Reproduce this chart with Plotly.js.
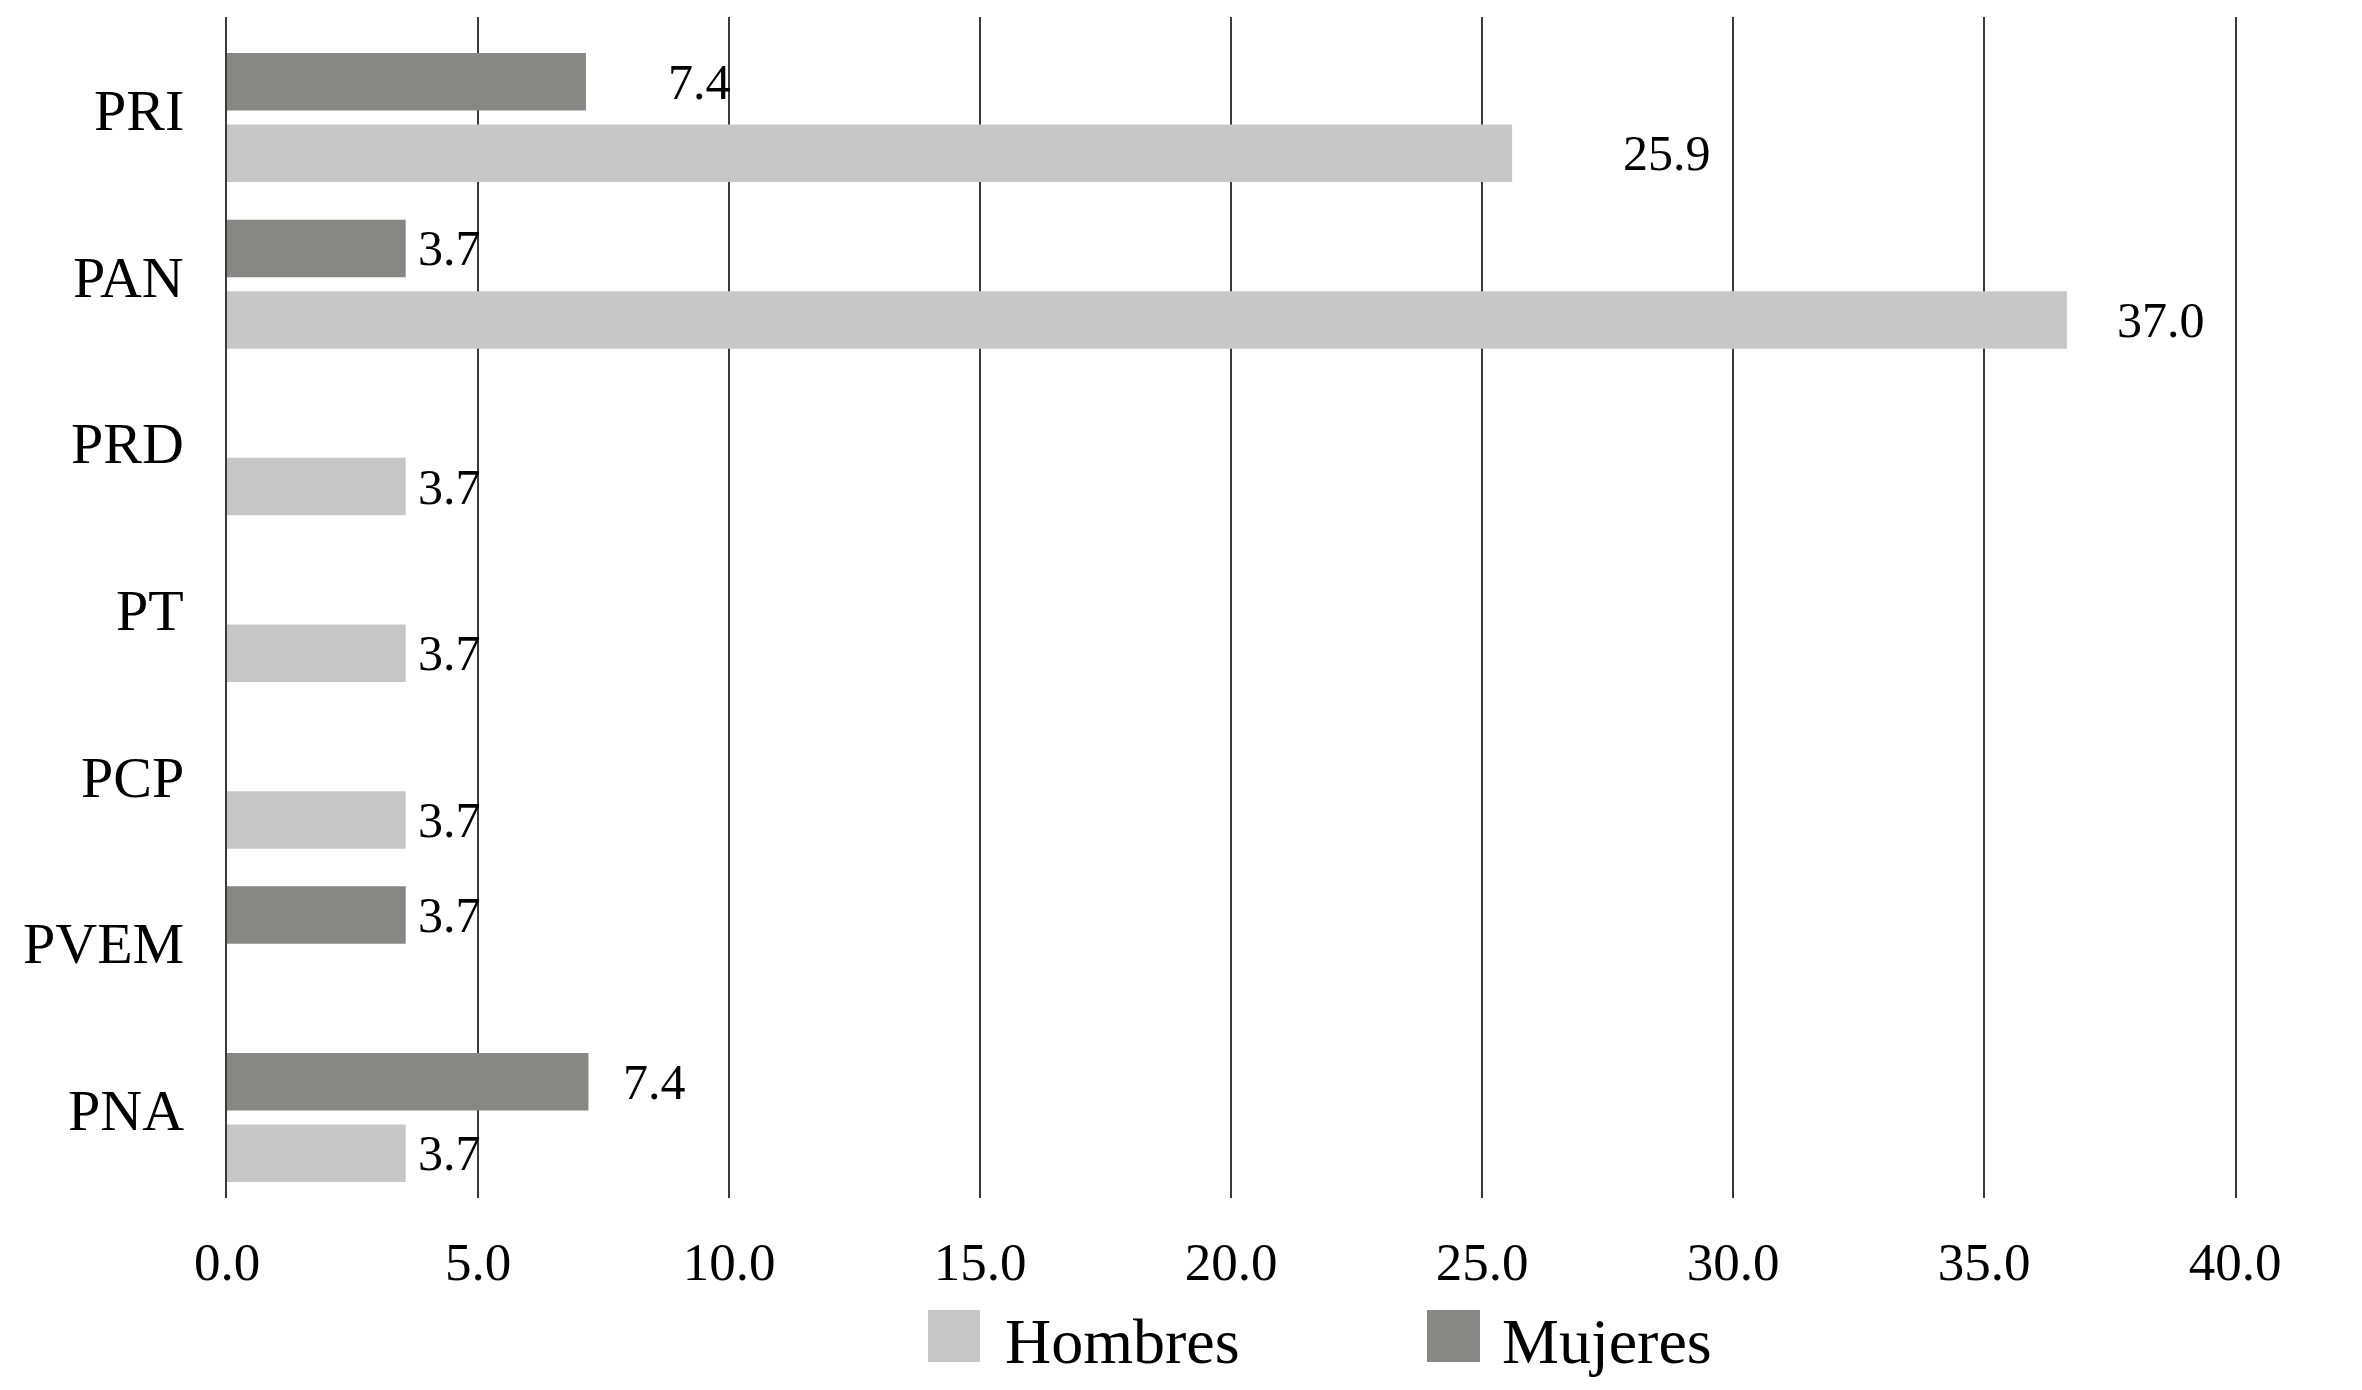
<!DOCTYPE html>
<html>
<head>
<meta charset="utf-8">
<script src="https://cdn.plot.ly/plotly-3.0.1.min.js"></script>
<style>html,body{margin:0;padding:0;background:#fff;}#chart{width:2362px;height:1390px;}</style>
</head>
<body>
<div id="chart"></div>
<script>
// ---- data ----
const categories = ['PRI', 'PAN', 'PRD', 'PT', 'PCP', 'PVEM', 'PNA'];
const seriesNames = ['Hombres', 'Mujeres'];
// bar lengths
const hombres = [25.6, 36.65, 3.56, 3.56, 3.56, null, 3.56];
const mujeres = [7.15, 3.56, null, null, null, 3.56, 7.2];
// data labels as printed
const hombresLabels = ['25.9', '37.0', '3.7', '3.7', '3.7', '', '3.7'];
const mujeresLabels = ['7.4', '3.7', '', '', '', '3.7', '7.4'];
const xTickVals = [0, 5, 10, 15, 20, 25, 30, 35, 40];

// ---- styling (not data) ----
const hombresLabelShift = [109, 48, 10, 10, 10, 0, 10];
const mujeresLabelShift = [80, 10, 0, 0, 0, 10, 33];
const FONT = 'Liberation Serif, Times New Roman, serif';
const colH = '#c7c7c7';
const colM = '#878783';
const gridCol = '#3a3a3a';
const bargap = 0.142, bargroupgap = 0.196;
const slot = (1 - bargap) / 2;

const traces = [
  {type: 'bar', orientation: 'h', name: seriesNames[1], y: categories, x: mujeres,
   marker: {color: colM, line: {width: 0}}, hoverinfo: 'skip', showlegend: false},
  {type: 'bar', orientation: 'h', name: seriesNames[0], y: categories, x: hombres,
   marker: {color: colH, line: {width: 0}}, hoverinfo: 'skip', showlegend: false}
];

const annotations = [];
categories.forEach((c, i) => {
  // category label (drawn as annotation so it can sit slightly above centre like the original)
  annotations.push({x: 0, xref: 'paper', y: c, yref: 'y', text: c, showarrow: false,
    xanchor: 'right', yanchor: 'middle', xshift: -41, yshift: 7,
    font: {family: FONT, size: 58, color: '#000'}});
  if (mujeres[i] != null && mujeresLabels[i]) {
    annotations.push({x: mujeres[i], y: i - slot / 2, xref: 'x', yref: 'y', text: mujeresLabels[i],
      showarrow: false, xanchor: 'left', yanchor: 'middle', xshift: mujeresLabelShift[i],
      font: {family: FONT, size: 50, color: '#000'}});
  }
  if (hombres[i] != null && hombresLabels[i]) {
    annotations.push({x: hombres[i], y: i + slot / 2, xref: 'x', yref: 'y', text: hombresLabels[i],
      showarrow: false, xanchor: 'left', yanchor: 'middle', xshift: hombresLabelShift[i],
      font: {family: FONT, size: 50, color: '#000'}});
  }
});

// custom legend (large square swatches)
const legendItems = [
  {name: seriesNames[0], color: colH, x0: 0.3491, x1: 0.375, tx: 0.3865},
  {name: seriesNames[1], color: colM, x0: 0.5976, x1: 0.624, tx: 0.634}
];
const shapes = [];
legendItems.forEach(it => {
  shapes.push({type: 'rect', xref: 'paper', yref: 'paper', x0: it.x0, x1: it.x1, y0: -0.1389, y1: -0.0948,
    fillcolor: it.color, line: {width: 0}});
  annotations.push({xref: 'paper', yref: 'paper', x: it.tx, y: -0.1211, text: it.name, showarrow: false,
    xanchor: 'left', yanchor: 'middle', font: {family: FONT, size: 64, color: '#000'}});
});

const layout = {
  width: 2362, height: 1390,
  margin: {l: 227, r: 127, t: 17, b: 192},
  paper_bgcolor: '#fff', plot_bgcolor: '#fff',
  barmode: 'group', bargap: bargap, bargroupgap: bargroupgap,
  showlegend: false,
  font: {family: FONT, color: '#000'},
  xaxis: {range: [0, 40], tickmode: 'array', tickvals: xTickVals, tickformat: '.1f',
    showgrid: true, gridcolor: gridCol, gridwidth: 2, zeroline: false, showline: false,
    ticks: '', ticklabelstandoff: 28, tickfont: {family: FONT, size: 53, color: '#000'}, fixedrange: true},
  yaxis: {type: 'category', categoryorder: 'array', categoryarray: categories,
    range: [6.483, -0.603], showgrid: false, zeroline: false, showticklabels: false,
    showline: true, mirror: true, linecolor: gridCol, linewidth: 2, ticks: '', fixedrange: true},
  annotations: annotations,
  shapes: shapes
};

Plotly.newPlot('chart', traces, layout, {displayModeBar: false, staticPlot: true});
</script>
</body>
</html>
